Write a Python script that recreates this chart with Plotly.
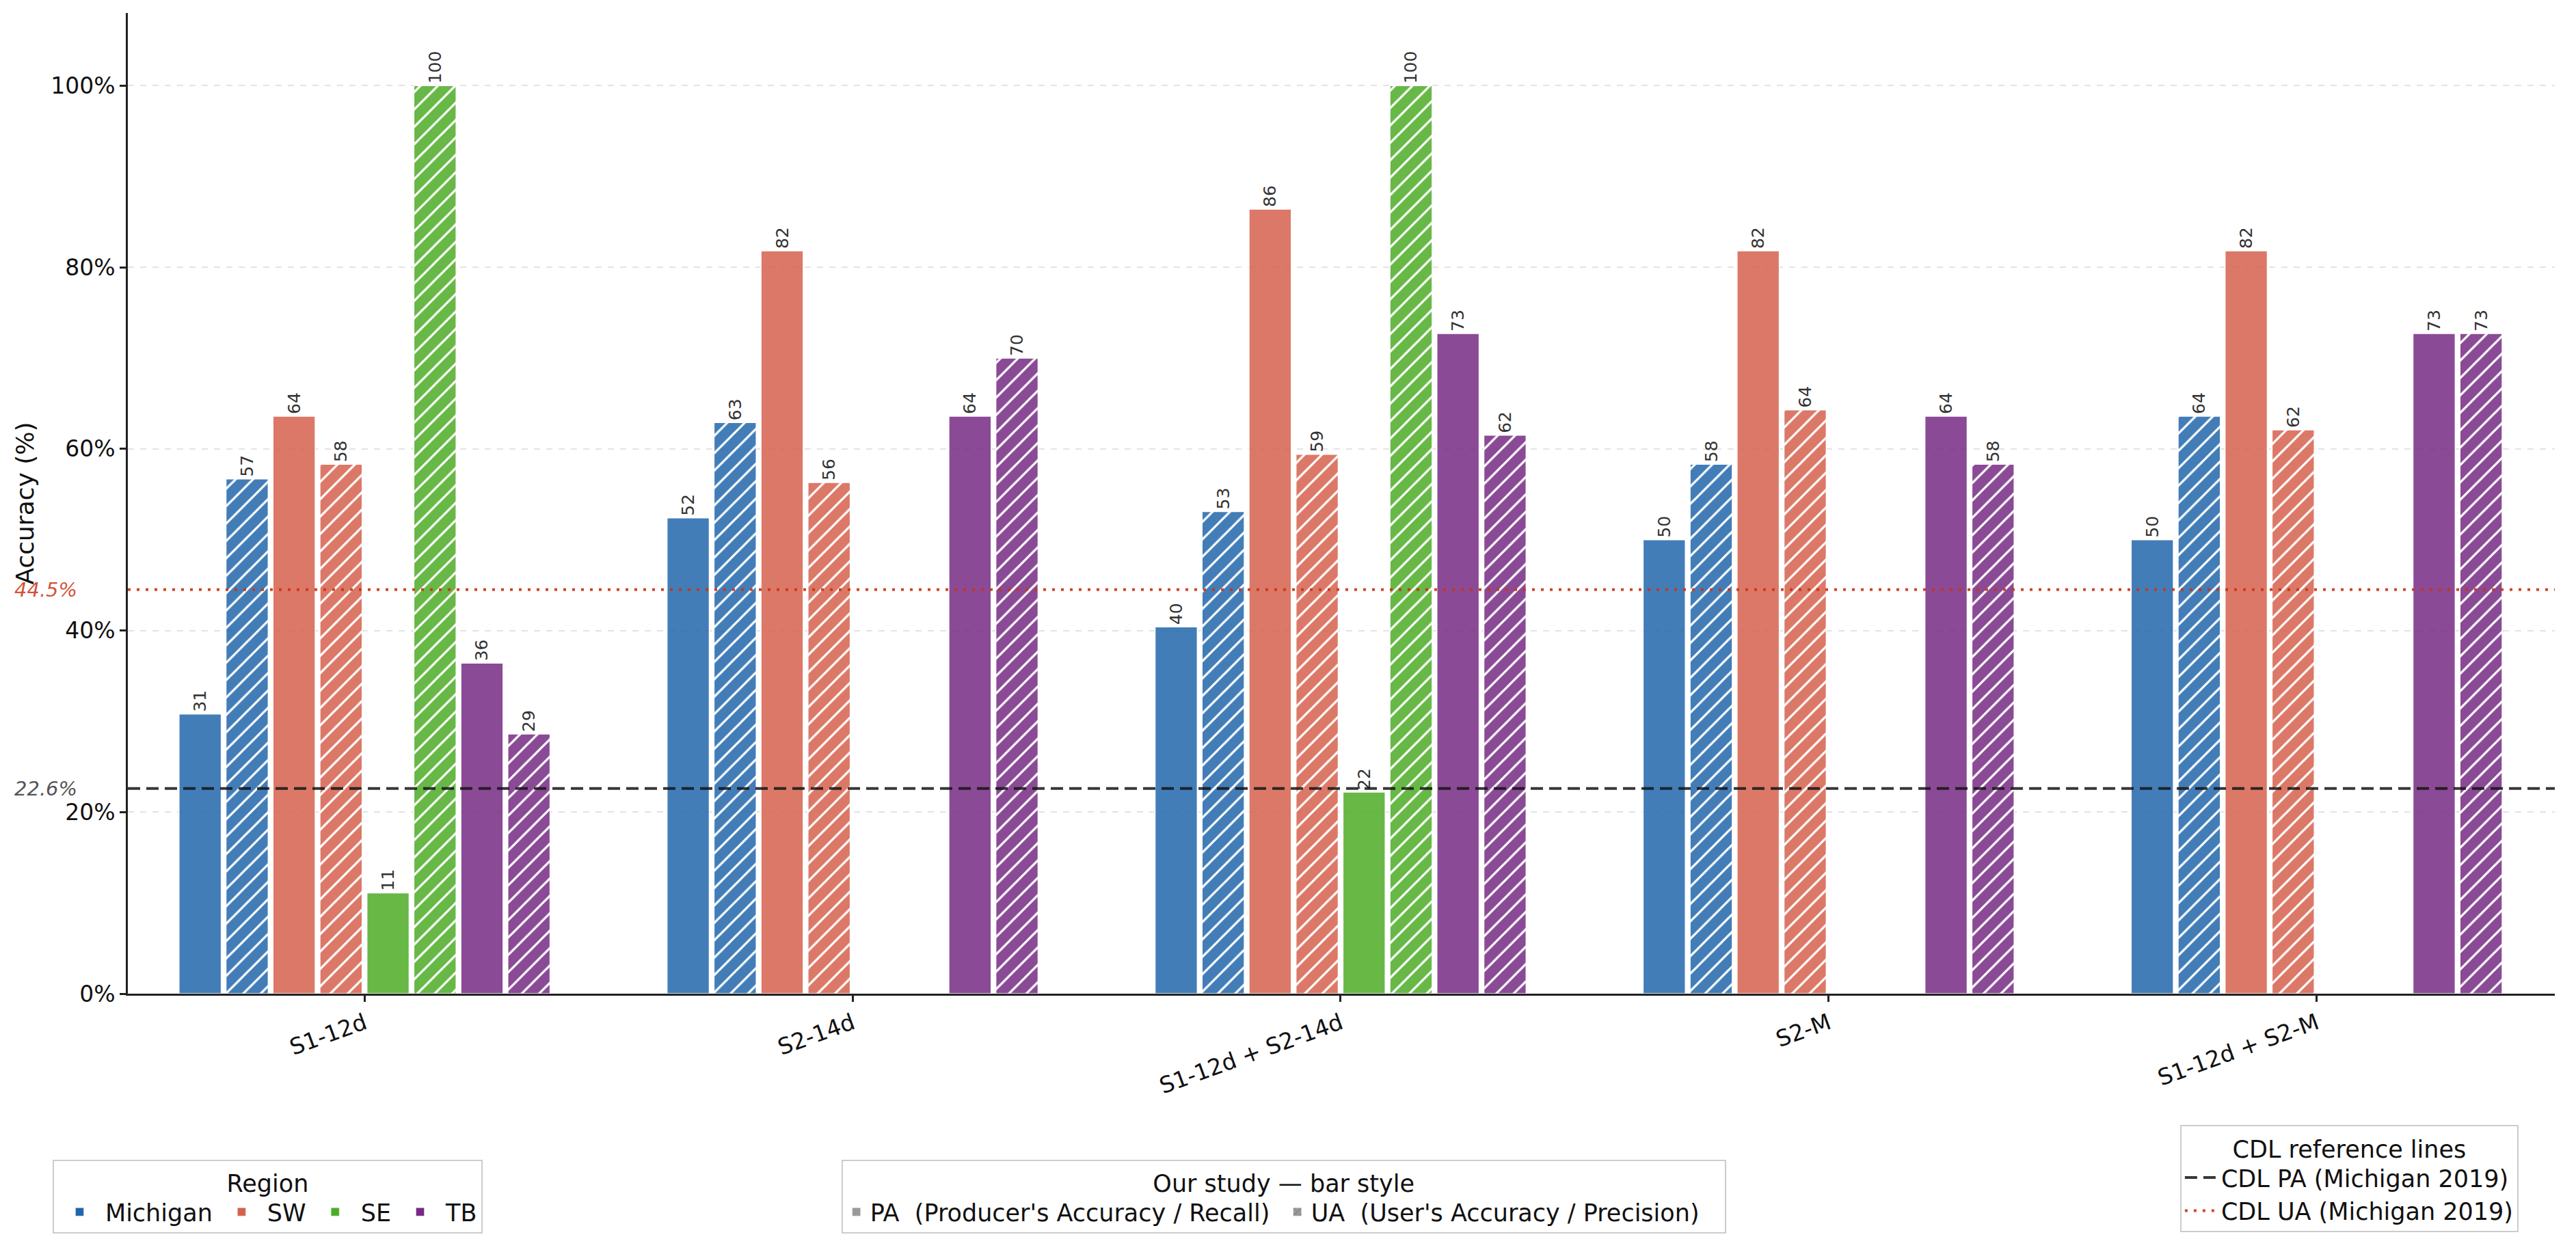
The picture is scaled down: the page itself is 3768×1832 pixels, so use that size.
import plotly.graph_objects as go

# ---------------- data ----------------
categories = ["S1-12d", "S2-14d", "S1-12d + S2-14d", "S2-M", "S1-12d + S2-M"]
regions = ["Michigan", "SW", "SE", "TB"]
region_colors = ["#2166ac", "#d6604d", "#4dac26", "#762a83"]

michigan_pa = [30.8, 52.4, 40.4, 50.0, 50.0]
michigan_ua = [56.7, 62.9, 53.1, 58.3, 63.6]
sw_pa = [63.6, 81.8, 86.4, 81.8, 81.8]
sw_ua = [58.3, 56.3, 59.4, 64.3, 62.1]
se_pa = [11.1, None, 22.2, None, None]
se_ua = [100.0, None, 100.0, None, None]
tb_pa = [36.4, 63.6, 72.7, 63.6, 72.7]
tb_ua = [28.6, 70.0, 61.5, 58.3, 72.7]

pa_values = [michigan_pa, sw_pa, se_pa, tb_pa]
ua_values = [michigan_ua, sw_ua, se_ua, tb_ua]

cdl_pa = 22.6
cdl_ua = 44.5

y_ticks = [0, 20, 40, 60, 80, 100]
y_tick_labels = ["0%", "20%", "40%", "60%", "80%", "100%"]

FONT = "DejaVu Sans"
LEG_FONT = 35


def rgba(hex_color, a):
    h = hex_color.lstrip("#")
    r, g, b = int(h[0:2], 16), int(h[2:4], 16), int(h[4:6], 16)
    return f"rgba({r},{g},{b},{a})"


fig = go.Figure()

# ---------------- bars ----------------
for reg, col, pa, ua in zip(regions, region_colors, pa_values, ua_values):
    fill = rgba(col, 0.85)
    fig.add_trace(go.Bar(
        x=categories, y=pa, name=f"{reg} PA", showlegend=False,
        marker=dict(color=fill, line=dict(color="white", width=1.5)),
        texttemplate="%{y:.0f}", textposition="outside", textangle=-90,
        textfont=dict(size=25, color="#333333", family=FONT),
        constraintext="none", cliponaxis=False, hoverinfo="x+y+name",
    ))
    fig.add_trace(go.Bar(
        x=categories, y=ua, name=f"{reg} UA", showlegend=False,
        marker=dict(color=fill, line=dict(color="white", width=1.5),
                    pattern=dict(shape="/", fgcolor="white", fgopacity=1,
                                 fillmode="overlay", size=18, solidity=0.18)),
        texttemplate="%{y:.0f}", textposition="outside", textangle=-90,
        textfont=dict(size=25, color="#333333", family=FONT),
        constraintext="none", cliponaxis=False, hoverinfo="x+y+name",
    ))

# ---------------- legend-only entries (hidden axes) ----------------
for reg, col in zip(regions, region_colors):
    fig.add_trace(go.Bar(
        x=[None], y=[None], name=reg, marker=dict(color=col),
        xaxis="x2", yaxis="y2", legend="legend", showlegend=True,
    ))

fig.add_trace(go.Bar(
    x=[None], y=[None], name="PA  (Producer's Accuracy / Recall)",
    marker=dict(color="#999999"), xaxis="x2", yaxis="y2",
    legend="legend2", showlegend=True,
))
fig.add_trace(go.Bar(
    x=[None], y=[None], name="UA  (User's Accuracy / Precision)",
    marker=dict(color="#999999",
                pattern=dict(shape="/", fgcolor="#707070", fillmode="overlay",
                             size=8, solidity=0.25)),
    xaxis="x2", yaxis="y2", legend="legend2", showlegend=True,
))

# ---------------- CDL reference lines ----------------
fig.add_shape(type="line", xref="x domain", x0=0, x1=1, yref="y",
              y0=cdl_pa, y1=cdl_pa,
              line=dict(color="rgba(20,20,20,0.85)", width=4, dash="18px,9px"),
              showlegend=True, name="CDL PA (Michigan 2019)", legend="legend3")
fig.add_shape(type="line", xref="x domain", x0=0, x1=1, yref="y",
              y0=cdl_ua, y1=cdl_ua,
              line=dict(color="rgba(204,51,17,0.9)", width=4, dash="4px,9px"),
              showlegend=True, name="CDL UA (Michigan 2019)", legend="legend3")

fig.add_annotation(x=0, xref="x domain", y=cdl_pa, yref="y",
                   text=f"<i>{cdl_pa}%</i>", showarrow=False, xanchor="right",
                   xshift=-72, font=dict(size=29, color="#555555", family=FONT))
fig.add_annotation(x=0, xref="x domain", y=cdl_ua, yref="y",
                   text=f"<i>{cdl_ua}%</i>", showarrow=False, xanchor="right",
                   xshift=-72, font=dict(size=29, color="rgba(204,51,17,0.85)", family=FONT))

legend_common = dict(
    bgcolor="white", bordercolor="#cccccc", borderwidth=2,
    font=dict(size=LEG_FONT, color="#111111", family=FONT),
    xanchor="left", yanchor="top",
)
leg_title_font = dict(size=LEG_FONT, color="#111111", family=FONT)

fig.update_layout(
    width=3768, height=1832,
    paper_bgcolor="white", plot_bgcolor="white",
    font=dict(family=FONT, color="#111111"),
    margin=dict(l=187, r=31, t=19, b=378),
    barmode="group", bargap=0.23, bargroupgap=0.1,
    xaxis=dict(
        range=[-0.485, 4.488], showline=True, linecolor="#222222", linewidth=2.5,
        ticks="outside", ticklen=9, tickwidth=2.5, tickcolor="#222222",
        tickangle=-20, tickfont=dict(size=33, color="#111111", family=FONT),
        showgrid=False, zeroline=False, automargin=False,
    ),
    yaxis=dict(
        range=[0, 108], tickvals=y_ticks, ticktext=y_tick_labels,
        showline=True, linecolor="#222222", linewidth=2.5,
        ticks="outside", ticklen=9, tickwidth=2.5, tickcolor="#222222",
        tickfont=dict(size=33, color="#111111", family=FONT),
        showgrid=True, gridcolor="#e3e3e3", gridwidth=1.5, griddash="dash",
        zeroline=False, automargin=False,
        title=dict(text="Accuracy (%)", font=dict(size=36, color="#111111", family=FONT),
                   standoff=14),
    ),
    xaxis2=dict(overlaying="x", visible=False),
    yaxis2=dict(overlaying="y", visible=False),
    legend=dict(
        **legend_common, orientation="h", x=-0.031, y=-0.169, itemwidth=65,
        title=dict(text="Region", side="top center", font=leg_title_font),
    ),
    legend2=dict(
        **legend_common, orientation="h", x=0.294, y=-0.169,
        entrywidth=600, entrywidthmode="pixels",
        title=dict(text="Our study \u2014 bar style", side="top center",
                   font=leg_title_font),
    ),
    legend3=dict(
        **legend_common, orientation="v", x=0.8456, y=-0.134, itemwidth=48,
        title=dict(text="CDL reference lines", side="top center",
                   font=leg_title_font),
    ),
)

fig.write_html("out.html")
